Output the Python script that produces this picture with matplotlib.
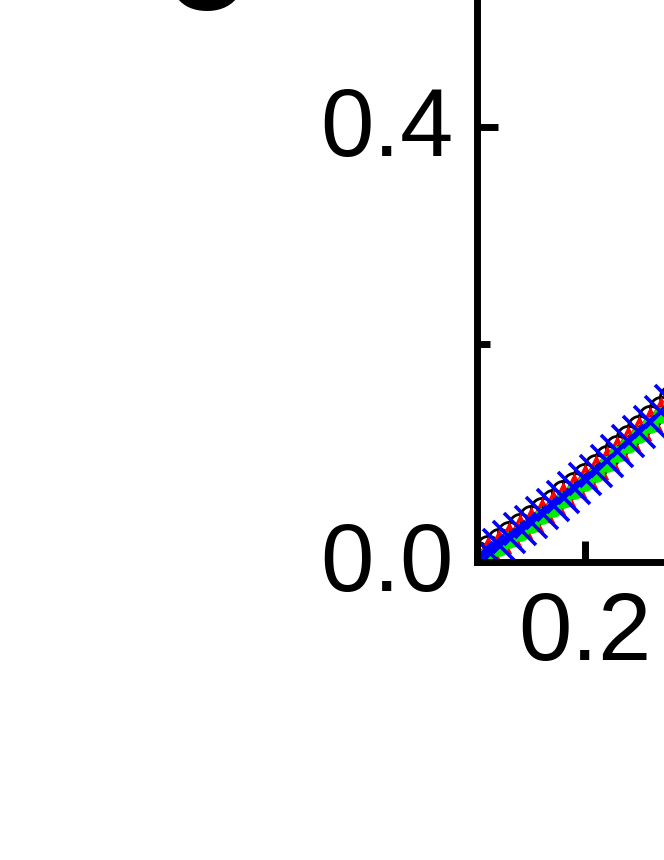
import matplotlib
matplotlib.use("Agg")
import matplotlib.pyplot as plt
from matplotlib.ticker import MultipleLocator
from matplotlib.transforms import ScaledTranslation

plt.rcParams['font.family'] = ['Liberation Sans', 'DejaVu Sans']

# datos (x comun)
x_vals = [0.10, 0.11, 0.12, 0.13, 0.14, 0.15, 0.16, 0.17, 0.18, 0.19, 0.20,
          0.21, 0.22, 0.23, 0.24, 0.25, 0.26, 0.27, 0.28, 0.29, 0.30]
y_black = [0.008, 0.014, 0.020, 0.027, 0.034, 0.041, 0.049, 0.056, 0.064, 0.072, 0.080,
           0.088, 0.097, 0.106, 0.115, 0.124, 0.133, 0.142, 0.152, 0.162, 0.172]
y_red = [0.006, 0.012, 0.018, 0.025, 0.032, 0.039, 0.047, 0.054, 0.062, 0.070, 0.078,
         0.086, 0.095, 0.104, 0.113, 0.122, 0.131, 0.140, 0.150, 0.160, 0.170]
y_green = [0.002, 0.007, 0.013, 0.020, 0.027, 0.034, 0.042, 0.049, 0.057, 0.065, 0.073,
           0.081, 0.090, 0.099, 0.108, 0.117, 0.126, 0.135, 0.145, 0.155, 0.165]
y_blue = [0.004, 0.010, 0.016, 0.023, 0.030, 0.037, 0.045, 0.052, 0.060, 0.068, 0.076,
          0.084, 0.093, 0.102, 0.111, 0.120, 0.129, 0.138, 0.148, 0.158, 0.168]

panel_label = 'c'

W, H = 664, 860
fig = plt.figure(figsize=(W / 100, H / 100), dpi=100)

# ejes: origen en pixel (477, 562), ~1080 px por unidad
x0, x1 = 0.1, 1.0
y0, y1 = 0.0, 0.6
left = 477 / W
bottom = (H - 562) / H
ax = fig.add_axes([left, bottom, (x1 - x0) * 1080 / W, (y1 - y0) * 1087.5 / H])

ax.plot(x_vals, y_black, '-', color='black', lw=2, marker='o', ms=16,
        mfc='none', mec='black', mew=2)
ax.plot(x_vals, y_red, '-', color='red', lw=3, marker='^', ms=14,
        mfc='none', mec='red', mew=2.5)
ax.plot(x_vals, y_green, '--', color='#00ee00', lw=5, marker='o', ms=11,
        mfc='#00ee00', mec='#00ee00')
ax.plot(x_vals, y_blue, '-', color='blue', lw=2, marker='x', ms=23, mew=2.6)

ax.set_xlim(x0, x1)
ax.set_ylim(y0, y1)
ax.xaxis.set_major_locator(MultipleLocator(0.2))
ax.yaxis.set_major_locator(MultipleLocator(0.4))
ax.yaxis.set_minor_locator(MultipleLocator(0.2))
ax.xaxis.set_minor_locator(MultipleLocator(0.1))

for s in ax.spines.values():
    s.set_linewidth(5)
ax.tick_params(which='major', direction='in', length=15, width=5, labelsize=69)
ax.tick_params(which='minor', direction='in', length=9, width=5)
ax.tick_params(axis='x', which='major', pad=20)
ax.tick_params(axis='y', which='major', pad=17)
ax.tick_params(top=False, right=False, which='both')

fig.text(205 / W, (H - 10) / H, panel_label, fontsize=110, fontweight='bold',
         ha='center', va='baseline')

# subir un poco las etiquetas del eje y
fig.canvas.draw()
shift = ScaledTranslation(0, 4 / 72, fig.dpi_scale_trans)
for tick in ax.yaxis.get_major_ticks():
    tick.label1.set_transform(tick.label1.get_transform() + shift)

fig.savefig('out.png', dpi=100)
